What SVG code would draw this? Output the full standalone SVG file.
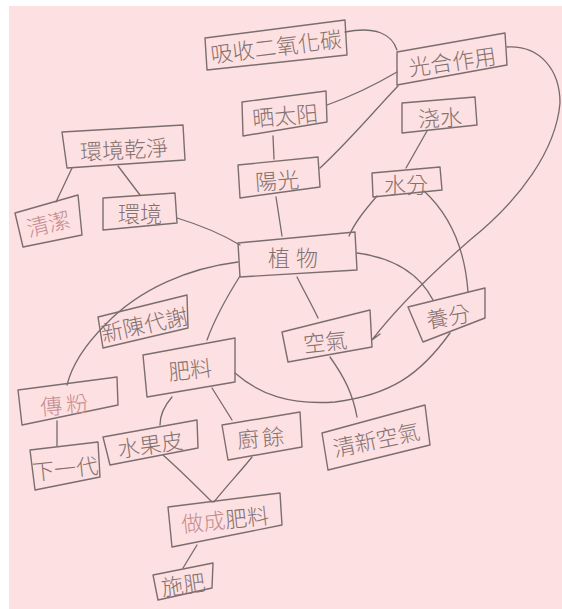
<svg xmlns="http://www.w3.org/2000/svg" width="562" height="609" viewBox="0 0 562 609">
<style>
.bx{fill:none;stroke:#7c6d6e;stroke-width:1.4;stroke-linejoin:round}
.t{font-family:"Noto Sans CJK TC","Noto Sans CJK SC",sans-serif;fill:#84706f;font-size:22px;font-weight:300;text-anchor:middle;dominant-baseline:central}
.r{fill:#c58b8f}
#connectors path{fill:none;stroke:#766b6c;stroke-width:1.3;stroke-linecap:round}
</style>
<rect x="0" y="0" width="562" height="609" fill="#ffffff"/>
<rect x="9" y="6" width="553" height="603" fill="#fde0e1"/>
<g id="connectors">
<path d="M345,32 C375,26 392,34 397,50"/>
<path d="M327,105 C355,95 380,82 397,72"/>
<path d="M320,168 C350,140 375,110 398,86"/>
<path d="M273,136 L274,159"/>
<path d="M276,197 L282,236"/>
<path d="M427,131 L406,168"/>
<path d="M377,196 C365,210 355,222 349,236"/>
<path d="M424,191 C450,215 465,250 468,292"/>
<path d="M507,47 C540,45 560,70 560,103 C556,150 520,200 470,240 C430,275 395,310 372,340 L380,334"/>
<path d="M357,253 C395,258 420,275 433,300"/>
<path d="M297,277 C305,293 312,305 318,318"/>
<path d="M330,357 C345,378 353,395 357,417"/>
<path d="M450,333 C420,375 390,395 335,402 C290,405 260,395 235,373"/>
<path d="M177,218 C200,225 220,233 240,245"/>
<path d="M72,168 L56,202"/>
<path d="M118,166 L140,195"/>
<path d="M238,262 C190,268 140,288 105,325 C85,345 72,365 67,385"/>
<path d="M240,276 C228,295 215,318 207,340"/>
<path d="M172,397 C165,405 160,413 160,425"/>
<path d="M212,388 L232,420"/>
<path d="M163,455 C180,470 198,488 212,502"/>
<path d="M252,457 C240,472 225,488 214,502"/>
<path d="M197,545 L183,568"/>
<path d="M57,421 L57,446"/>
</g>
<g id="n1"><polygon class="bx" points="205,38 345,20 347,55 207,70"/><text class="t" x="276" y="45" transform="rotate(-7 276 45)">吸收二氧化碳</text></g>
<g id="n2"><polygon class="bx" points="397,52 505,33 507,65 397,85"/><text class="t" x="452" y="60" font-size="24" transform="rotate(-8 452 60)">光合作用</text></g>
<g id="n3"><polygon class="bx" points="242,102 326,91 327,122 243,136"/><text class="t" x="285" y="114" transform="rotate(-5 285 114)">晒太阳</text></g>
<g id="n4"><polygon class="bx" points="402,103 475,97 477,125 402,133"/><text class="t" x="440" y="116" transform="rotate(-3 440 116)">浇水</text></g>
<g id="n5"><polygon class="bx" points="238,165 318,157 320,187 240,198"/><text class="t" x="277" y="179" transform="rotate(-4 277 179)">陽光</text></g>
<g id="n6"><polygon class="bx" points="372,173 440,167 442,190 373,197"/><text class="t" x="406" y="183" font-size="20">水分</text></g>
<g id="n7"><polygon class="bx" points="62,132 183,125 185,160 67,168"/><text class="t" x="124" y="148" transform="rotate(-3 124 148)">環境乾淨</text></g>
<g id="n8"><polygon class="bx" points="15,213 78,195 82,235 23,247"/><text class="t r" x="48" y="222" transform="rotate(-14 48 222)">清潔</text></g>
<g id="n9"><polygon class="bx" points="103,198 175,193 177,223 103,230"/><text class="t" x="140" y="212">環境</text></g>
<g id="n10"><polygon class="bx" points="238,243 355,232 357,270 240,277"/><text class="t" x="296" y="256" font-size="24" letter-spacing="6">植物</text></g>
<g id="n11"><polygon class="bx" points="98,317 187,295 188,328 103,348"/><text class="t" x="144" y="323" font-size="20" transform="rotate(-12 144 323)">新陳代謝</text></g>
<g id="n12"><polygon class="bx" points="143,355 235,338 235,382 147,397"/><text class="t" x="190" y="368" font-size="24" transform="rotate(-6 190 368)">肥料</text></g>
<g id="n13"><polygon class="bx" points="282,332 370,310 372,347 288,362"/><text class="t" x="325" y="340" font-size="22" transform="rotate(-6 325 340)">空氣</text></g>
<g id="n14"><polygon class="bx" points="408,307 485,288 485,318 423,342"/><text class="t" x="448" y="315" font-size="20" transform="rotate(-10 448 315)">養分</text></g>
<g id="n15"><polygon class="bx" points="18,390 117,377 118,405 22,425"/><text class="t r" x="66" y="403" font-size="24" letter-spacing="4" transform="rotate(-5 66 403)">傳粉</text></g>
<g id="n16"><polygon class="bx" points="30,450 98,442 100,477 35,490"/><text class="t" x="65" y="467" transform="rotate(-6 65 467)">下一代</text></g>
<g id="n17"><polygon class="bx" points="103,437 197,420 198,448 110,465"/><text class="t" x="150" y="443" font-size="20" transform="rotate(-8 150 443)">水果皮</text></g>
<g id="n18"><polygon class="bx" points="222,425 300,412 302,447 228,460"/><text class="t" x="262" y="436" font-size="22" letter-spacing="3" transform="rotate(-5 262 436)">廚餘</text></g>
<g id="n19"><polygon class="bx" points="322,433 425,405 430,445 328,470"/><text class="t" x="376" y="438" transform="rotate(-12 376 438)">清新空氣</text></g>
<g id="n20"><polygon class="bx" points="168,507 280,493 282,525 172,547"/><text class="t" x="225" y="518" transform="rotate(-6 225 518)"><tspan class="r">做成</tspan>肥料</text></g>
<g id="n21"><polygon class="bx" points="153,575 213,563 212,588 158,600"/><text class="t" x="183" y="583" font-size="20" transform="rotate(-8 183 583)">施肥</text></g>
</svg>
